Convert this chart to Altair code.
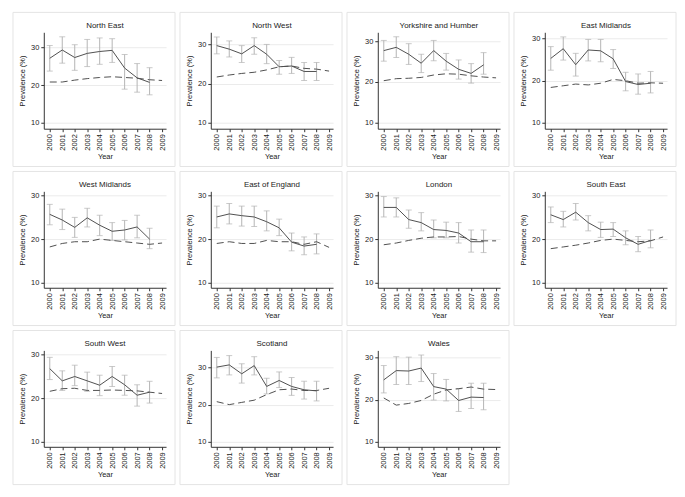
import altair as alt
import pandas as pd

regions = ["North East", "North West", "Yorkshire and Humber", "East Midlands",
           "West Midlands", "East of England", "London", "South East",
           "South West", "Scotland", "Wales"]
years = [2000, 2001, 2002, 2003, 2004, 2005, 2006, 2007, 2008, 2009]
survey_years = years[:9]

prevalence = [
    [27.1, 29.3, 27.3, 28.4, 28.9, 29.2, 24.5, 21.9, 20.7],
    [29.7, 28.8, 27.6, 29.7, 27.5, 24.3, 24.5, 23.1, 23.1],
    [27.7, 28.5, 26.8, 24.6, 27.7, 25.1, 23.1, 22.1, 24.2],
    [25.3, 27.6, 23.8, 27.3, 27.1, 25.2, 19.8, 19.1, 19.4],
    [25.7, 24.4, 22.7, 24.9, 23.2, 21.8, 22.1, 22.8, 20.0],
    [25.1, 25.8, 25.4, 25.1, 24.0, 22.6, 19.3, 18.4, 18.8],
    [27.3, 27.3, 24.5, 23.8, 22.2, 22.0, 21.4, 19.4, 19.4],
    [25.6, 24.5, 26.2, 23.8, 22.2, 22.3, 20.3, 18.8, 19.7],
    [26.8, 24.0, 25.0, 24.0, 23.0, 25.0, 23.1, 20.7, 21.4],
    [30.1, 30.7, 28.3, 30.5, 24.9, 26.5, 24.9, 24.0, 23.7],
    [24.7, 26.9, 26.8, 27.5, 23.1, 22.5, 19.8, 20.6, 20.5],
]
ci_low = [
    [23.7, 25.8, 23.9, 24.9, 25.5, 26.0, 18.9, 18.1, 17.4],
    [27.6, 26.8, 25.4, 27.5, 25.1, 22.4, 22.6, 20.8, 20.8],
    [25.1, 26.0, 24.3, 22.3, 25.2, 22.9, 20.7, 19.7, 21.9],
    [22.5, 24.9, 21.1, 24.7, 24.5, 22.9, 17.6, 16.8, 17.1],
    [23.3, 22.2, 20.4, 22.8, 20.8, 19.7, 19.8, 20.3, 17.8],
    [22.6, 23.5, 23.0, 22.9, 21.9, 20.8, 17.3, 16.4, 16.6],
    [25.1, 25.1, 22.5, 21.9, 20.3, 20.3, 19.1, 17.0, 16.9],
    [23.8, 22.8, 24.4, 21.9, 20.4, 20.6, 18.7, 17.1, 18.0],
    [24.3, 21.8, 22.9, 21.6, 20.6, 22.7, 20.7, 18.2, 18.9],
    [27.2, 28.0, 25.8, 28.0, 22.9, 24.6, 22.5, 21.5, 21.0],
    [21.6, 23.6, 23.6, 24.3, 19.9, 19.7, 17.2, 17.9, 17.6],
]
ci_high = [
    [30.5, 32.8, 30.7, 32.1, 32.5, 32.3, 28.1, 25.7, 24.6],
    [31.9, 30.9, 29.7, 31.7, 30.0, 25.9, 26.7, 25.4, 25.4],
    [30.2, 31.1, 29.4, 26.8, 30.2, 27.0, 25.4, 24.5, 27.2],
    [28.1, 30.4, 26.5, 29.8, 29.8, 27.4, 22.0, 21.6, 22.2],
    [28.0, 26.9, 25.0, 27.1, 25.5, 23.8, 24.3, 25.5, 22.5],
    [27.6, 28.2, 27.6, 27.6, 26.5, 24.6, 21.4, 20.5, 21.2],
    [29.8, 29.5, 26.7, 26.1, 24.4, 23.9, 23.8, 22.1, 22.1],
    [27.4, 26.4, 28.2, 25.4, 23.9, 23.8, 21.9, 20.6, 22.1],
    [29.4, 26.3, 27.6, 26.0, 25.3, 27.3, 25.3, 23.1, 23.9],
    [32.7, 33.2, 31.0, 32.9, 27.1, 28.8, 27.3, 26.3, 26.3],
    [28.1, 30.2, 30.1, 30.6, 26.2, 24.8, 22.6, 23.9, 23.9],
]
comparison = [
    [20.8, 20.8, 21.3, 21.7, 22.0, 22.2, 22.0, 21.8, 21.4, 21.2],
    [21.7, 22.2, 22.6, 22.9, 23.5, 24.3, 24.5, 23.9, 23.7, 23.2],
    [20.3, 20.8, 20.9, 21.1, 21.7, 22.0, 21.9, 21.5, 21.2, 21.0],
    [18.4, 18.8, 19.2, 19.0, 19.4, 20.3, 20.0, 19.4, 19.5, 19.4],
    [18.2, 19.0, 19.4, 19.4, 20.0, 19.7, 19.4, 19.1, 18.8, 19.1],
    [19.0, 19.4, 19.0, 19.0, 19.7, 19.4, 19.4, 18.8, 19.4, 18.1],
    [18.7, 19.1, 19.7, 20.2, 20.5, 20.5, 20.6, 20.0, 19.6, 19.6],
    [17.8, 18.2, 18.6, 19.1, 19.7, 20.0, 19.7, 19.4, 19.6, 20.5],
    [21.6, 22.2, 22.3, 21.8, 21.8, 21.9, 21.8, 21.7, 21.4, 21.1],
    [20.8, 20.0, 20.6, 21.2, 22.7, 24.0, 24.2, 23.8, 23.8, 24.4],
    [20.4, 18.7, 19.1, 19.8, 21.3, 22.3, 22.6, 23.0, 22.5, 22.4],
]
axis_min = [8.4, 8.5, 8.5, 8.6, 8.8, 8.8, 8.8, 8.8, 8.85, 8.65, 8.8]
axis_max = [34.0, 33.1, 32.2, 31.5, 31.0, 31.0, 31.0, 31.0, 31.0, 34.6, 31.7]
y_ticks = [10, 20, 30]

W, H = 123, 97
LINE = "#505050"
BAR = "#b4b4b4"


def panel(i):
    df = pd.DataFrame({"year": survey_years, "p": prevalence[i],
                       "lo": ci_low[i], "hi": ci_high[i]})
    dd = pd.DataFrame({"year": years, "v": comparison[i]})
    xscale = alt.Scale(domain=[1999.52, 2009.32], nice=False, zero=False)
    yscale = alt.Scale(domain=[axis_min[i], axis_max[i]], nice=False, zero=False)
    xaxis = alt.Axis(values=years, format="d", labelAngle=-90, title="Year",
                     grid=False, labelBaseline="middle", labelAlign="right",
                     labelOverlap=False, titlePadding=2)
    yaxis = alt.Axis(values=y_ticks, format="d", title="Prevalence (%)", grid=True,
                     labelOverlap=False, titlePadding=4)
    xenc = alt.X("year:Q", scale=xscale, axis=xaxis)

    def yenc(f):
        return alt.Y(f + ":Q", scale=yscale, axis=yaxis)

    frame = alt.Chart(pd.DataFrame({"a": [0]})).mark_rect(
        fill="white", fillOpacity=0, stroke="#e4e4e4", strokeWidth=1
    ).encode(x=alt.value(-31), x2=alt.value(W + 9), y=alt.value(-20), y2=alt.value(H + 38))
    base = alt.Chart(df)
    rules = base.mark_rule(color=BAR, strokeWidth=1).encode(
        x=xenc, y=yenc("lo"), y2="hi:Q")
    cap_lo = base.mark_tick(orient="horizontal", color=BAR, size=6, thickness=1).encode(
        x=xenc, y=yenc("lo"))
    cap_hi = base.mark_tick(orient="horizontal", color=BAR, size=6, thickness=1).encode(
        x=xenc, y=yenc("hi"))
    dashed = alt.Chart(dd).mark_line(color=LINE, strokeWidth=1, strokeDash=[7, 4]).encode(
        x=xenc, y=yenc("v"))
    solid = base.mark_line(color=LINE, strokeWidth=1).encode(x=xenc, y=yenc("p"))
    return alt.layer(frame, rules, cap_lo, cap_hi, dashed, solid).properties(
        width=W, height=H,
        title=alt.TitleParams(regions[i], fontSize=8, fontWeight="normal",
                              color="#222222", offset=-18, font="Liberation Sans"))


rows = []
for r in range(3):
    idx = [k for k in range(r * 4, r * 4 + 4) if k < len(regions)]
    rows.append(alt.hconcat(*[panel(k) for k in idx], spacing=3))

chart = alt.vconcat(*rows, spacing=3).properties(
    padding={"left": 4, "top": 2, "right": 0, "bottom": 0}
).configure_view(stroke=None).configure_axis(
    labelFont="Liberation Sans", titleFont="Liberation Sans",
    labelFontSize=7.5, titleFontSize=7.5, titleFontWeight="normal",
    labelColor="#222222", titleColor="#222222",
    domainColor="#333333", tickColor="#333333", tickSize=3, labelPadding=2,
    gridColor="#ebebeb", domainWidth=1, tickWidth=1
).configure_concat(spacing=3)

chart.save("out.html", embed_options={"renderer": "svg", "actions": False})
